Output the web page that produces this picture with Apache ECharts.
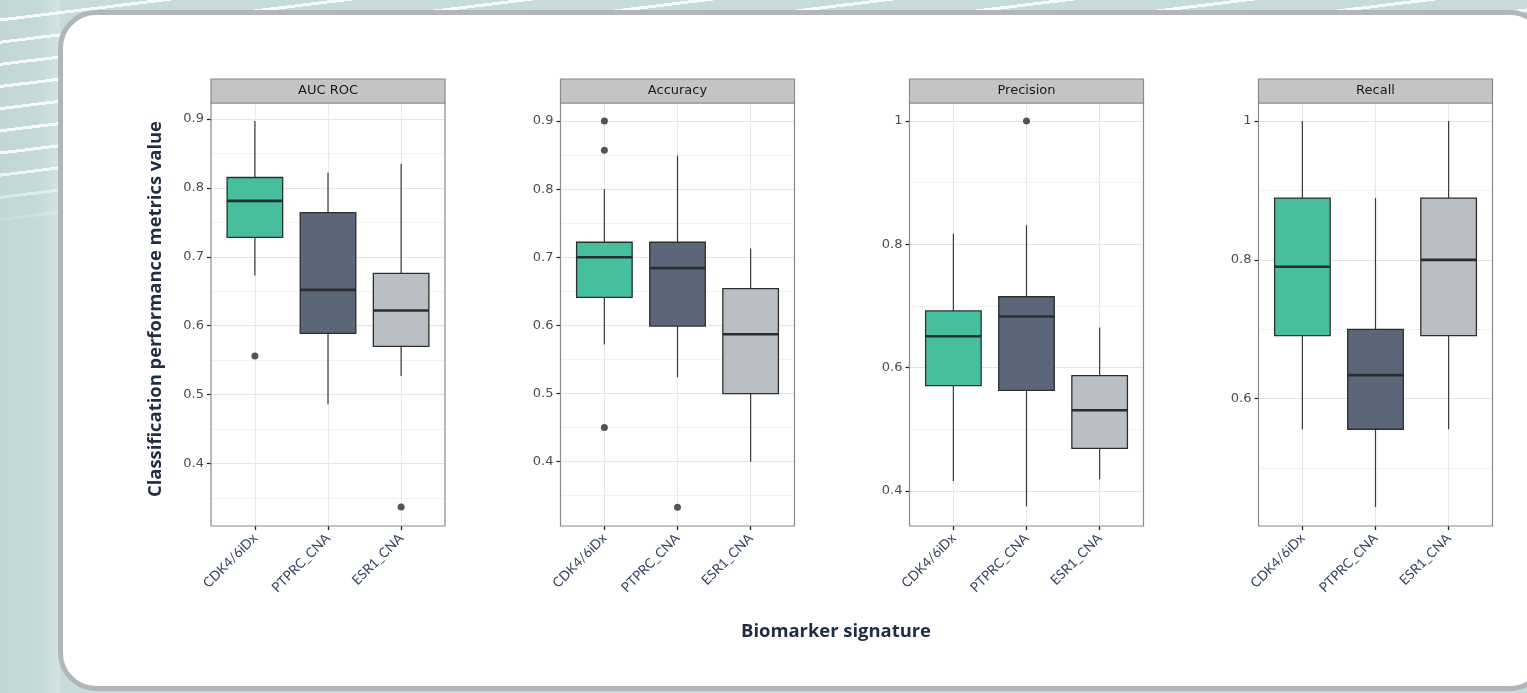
<!DOCTYPE html>
<html><head><meta charset="utf-8">
<script src="https://cdn.jsdelivr.net/npm/echarts@6/dist/echarts.min.js"></script>
<style>
html,body{margin:0;padding:0;width:1527px;height:693px;overflow:hidden;}
body{background: linear-gradient(90deg,#c0d6d7 0%, #c3d9da 60%, #d3e3e3 100%) 0 0/60px 100% no-repeat, #c8dbdc;}
#stripes{position:absolute;left:0;top:0;width:1527px;height:230px;
 background: repeating-linear-gradient(-7deg, rgba(255,255,255,0) 0px, rgba(255,255,255,0) 19px, rgba(255,255,255,0.85) 19px, rgba(255,255,255,0.85) 22px);
 -webkit-mask-image: linear-gradient(180deg, #000 0%, #000 70%, transparent 100%);
 mask-image: linear-gradient(180deg, #000 0%, #000 70%, transparent 100%);}
#card{position:absolute;left:58px;top:10px;width:1490px;height:681px;box-sizing:border-box;border:5px solid #b2b5b9;border-radius:38px;background:#fff;}
#chart{position:absolute;left:0;top:0;width:1527px;height:693px;}
</style></head><body><div id="stripes"></div><div id="card"></div><div id="chart"></div>
<script>
const categories = ['CDK4/6iDx', 'PTPRC_CNA', 'ESR1_CNA'];
const metricNames = ['AUC ROC', 'Accuracy', 'Precision', 'Recall'];
// [min, Q1, median, Q3, max] per category
const aucBoxes = [[0.673, 0.728, 0.781, 0.815, 0.897], [0.486, 0.589, 0.652, 0.764, 0.822], [0.527, 0.570, 0.622, 0.676, 0.835]];
const accuracyBoxes = [[0.572, 0.641, 0.700, 0.722, 0.800], [0.524, 0.599, 0.684, 0.722, 0.849], [0.400, 0.500, 0.587, 0.654, 0.713]];
const precisionBoxes = [[0.416, 0.571, 0.651, 0.692, 0.817], [0.375, 0.563, 0.683, 0.715, 0.831], [0.419, 0.469, 0.531, 0.587, 0.665]];
const recallBoxes = [[0.556, 0.691, 0.790, 0.889, 1.000], [0.444, 0.556, 0.634, 0.700, 0.889], [0.556, 0.691, 0.800, 0.889, 1.000]];
// [category index, value]
const aucOutliers = [[0, 0.556], [2, 0.337]];
const accuracyOutliers = [[0, 0.900], [0, 0.857], [0, 0.450], [1, 0.333]];
const precisionOutliers = [[1, 1.000]];
const recallOutliers = [];
const aucTicks = [0.4, 0.5, 0.6, 0.7, 0.8, 0.9];
const accuracyTicks = [0.4, 0.5, 0.6, 0.7, 0.8, 0.9];
const precisionTicks = [0.4, 0.6, 0.8, 1];
const recallTicks = [0.6, 0.8, 1];
const axisMin = [0.3096, 0.3056, 0.3432, 0.4166];
const axisMax = [0.923, 0.9264, 1.0292, 1.026];

const boxColors = ['#46bf9f', '#5b6778', '#b9bfc5'];
const allBoxes = [aucBoxes, accuracyBoxes, precisionBoxes, recallBoxes];
const allOutliers = [aucOutliers, accuracyOutliers, precisionOutliers, recallOutliers];
const allTicks = [aucTicks, accuracyTicks, precisionTicks, recallTicks];
const splitNums = [5, 5, 3, 3];

const panelLeft = [211, 560.5, 909.5, 1258.5];
const panelW = 234, panelTop = 103, panelH = 423, stripH = 24;
const unit = panelW / 3.2;

const chart = echarts.init(document.getElementById('chart'), null, {renderer: 'canvas'});

const grids = [], xAxes = [], yAxes = [], series = [], graphics = [];
for (let p = 0; p < 4; p++) {
  grids.push({left: panelLeft[p], top: panelTop, width: panelW, height: panelH, containLabel: false});
  xAxes.push({gridIndex: p, type: 'value', min: 0, max: 1, show: false});
  yAxes.push({
    gridIndex: p, type: 'value', min: axisMin[p], max: axisMax[p], splitNumber: splitNums[p],
    axisLine: {show: false},
    axisTick: {show: true, length: 4, customValues: allTicks[p], lineStyle: {color: '#222', width: 1.2}},
    axisLabel: {show: true, customValues: allTicks[p], color: '#4d4d4d', fontSize: 13, fontFamily: 'DejaVu Sans', margin: 7},
    splitLine: {show: true, lineStyle: {color: '#e3e3e3', width: 1}},
    minorTick: {show: false, splitNumber: 2},
    minorSplitLine: {show: true, lineStyle: {color: '#f2f2f2', width: 1}}
  });
}
for (let p = 0; p < 4; p++) {
  const g = 4 + p;
  grids.push({left: panelLeft[p] + 0.6 * unit, top: panelTop, width: 2 * unit, height: panelH, containLabel: false});
  xAxes.push({
    gridIndex: g, type: 'category', data: categories, boundaryGap: false,
    axisLine: {show: false},
    axisTick: {show: true, length: 4, alignWithLabel: true, lineStyle: {color: '#222', width: 1.3}},
    axisLabel: {interval: 0, rotate: 45, color: '#34445e', fontSize: 13.5, fontFamily: 'Lato', margin: 10},
    splitLine: {show: true, lineStyle: {color: '#e8e8e8', width: 1}}
  });
  yAxes.push({gridIndex: g, type: 'value', min: axisMin[p], max: axisMax[p], show: false, splitLine: {show: false}});
  series.push({
    type: 'custom', xAxisIndex: g, yAxisIndex: g,
    data: allBoxes[p].map((b, i) => [i].concat(b)),
    encode: {x: 0, y: [1, 2, 3, 4, 5]},
    renderItem: function (params, api) {
      const x = api.value(0);
      const lo = api.coord([x, api.value(1)]);
      const q1 = api.coord([x, api.value(2)]);
      const med = api.coord([x, api.value(3)]);
      const q3 = api.coord([x, api.value(4)]);
      const hi = api.coord([x, api.value(5)]);
      const band = api.size([1, 0])[0];
      const hw = band * 0.38;
      const cx = med[0];
      return {type: 'group', children: [
        {type: 'line', shape: {x1: cx, y1: q1[1], x2: cx, y2: lo[1]}, style: {stroke: '#383838', lineWidth: 1.2}},
        {type: 'line', shape: {x1: cx, y1: q3[1], x2: cx, y2: hi[1]}, style: {stroke: '#383838', lineWidth: 1.2}},
        {type: 'rect', shape: {x: cx - hw, y: q3[1], width: 2 * hw, height: q1[1] - q3[1]}, style: {fill: boxColors[params.dataIndex], stroke: '#2e2e2e', lineWidth: 1.3}},
        {type: 'line', shape: {x1: cx - hw, y1: med[1], x2: cx + hw, y2: med[1]}, style: {stroke: '#2a2d30', lineWidth: 2.6}}
      ]};
    },
    z: 5
  });
  series.push({
    type: 'scatter', xAxisIndex: g, yAxisIndex: g,
    data: allOutliers[p], symbol: 'circle', symbolSize: 7,
    itemStyle: {color: '#2b2b2b'}, z: 6
  });
  graphics.push({type: 'rect', z: 100, shape: {x: panelLeft[p], y: panelTop, width: panelW, height: panelH},
    style: {fill: 'none', stroke: '#8a8a8a', lineWidth: 1.2}});
  graphics.push({type: 'rect', z: 100, shape: {x: panelLeft[p], y: panelTop - stripH, width: panelW, height: stripH},
    style: {fill: '#c4c4c4', stroke: '#8a8a8a', lineWidth: 1.2}});
  graphics.push({type: 'text', z: 101, x: panelLeft[p] + panelW / 2, y: panelTop - stripH / 2,
    style: {text: metricNames[p], fill: '#1a1a1a', font: '13px "DejaVu Sans"', align: 'center', verticalAlign: 'middle'}});
}
graphics.push({type: 'text', z: 101, x: 155.5, y: 309, rotation: Math.PI / 2,
  style: {text: 'Classification performance metrics value', fill: '#1f2d45', font: 'bold 18.4px "Open Sans"', align: 'center', verticalAlign: 'middle'}});
graphics.push({type: 'text', z: 101, x: 836, y: 632,
  style: {text: 'Biomarker signature', fill: '#1f2d45', font: 'bold 18.4px "Open Sans"', align: 'center', verticalAlign: 'middle'}});

chart.setOption({
  animation: false,
  backgroundColor: 'transparent',
  grid: grids, xAxis: xAxes, yAxis: yAxes, series: series,
  graphic: {elements: graphics}
});
</script></body></html>
